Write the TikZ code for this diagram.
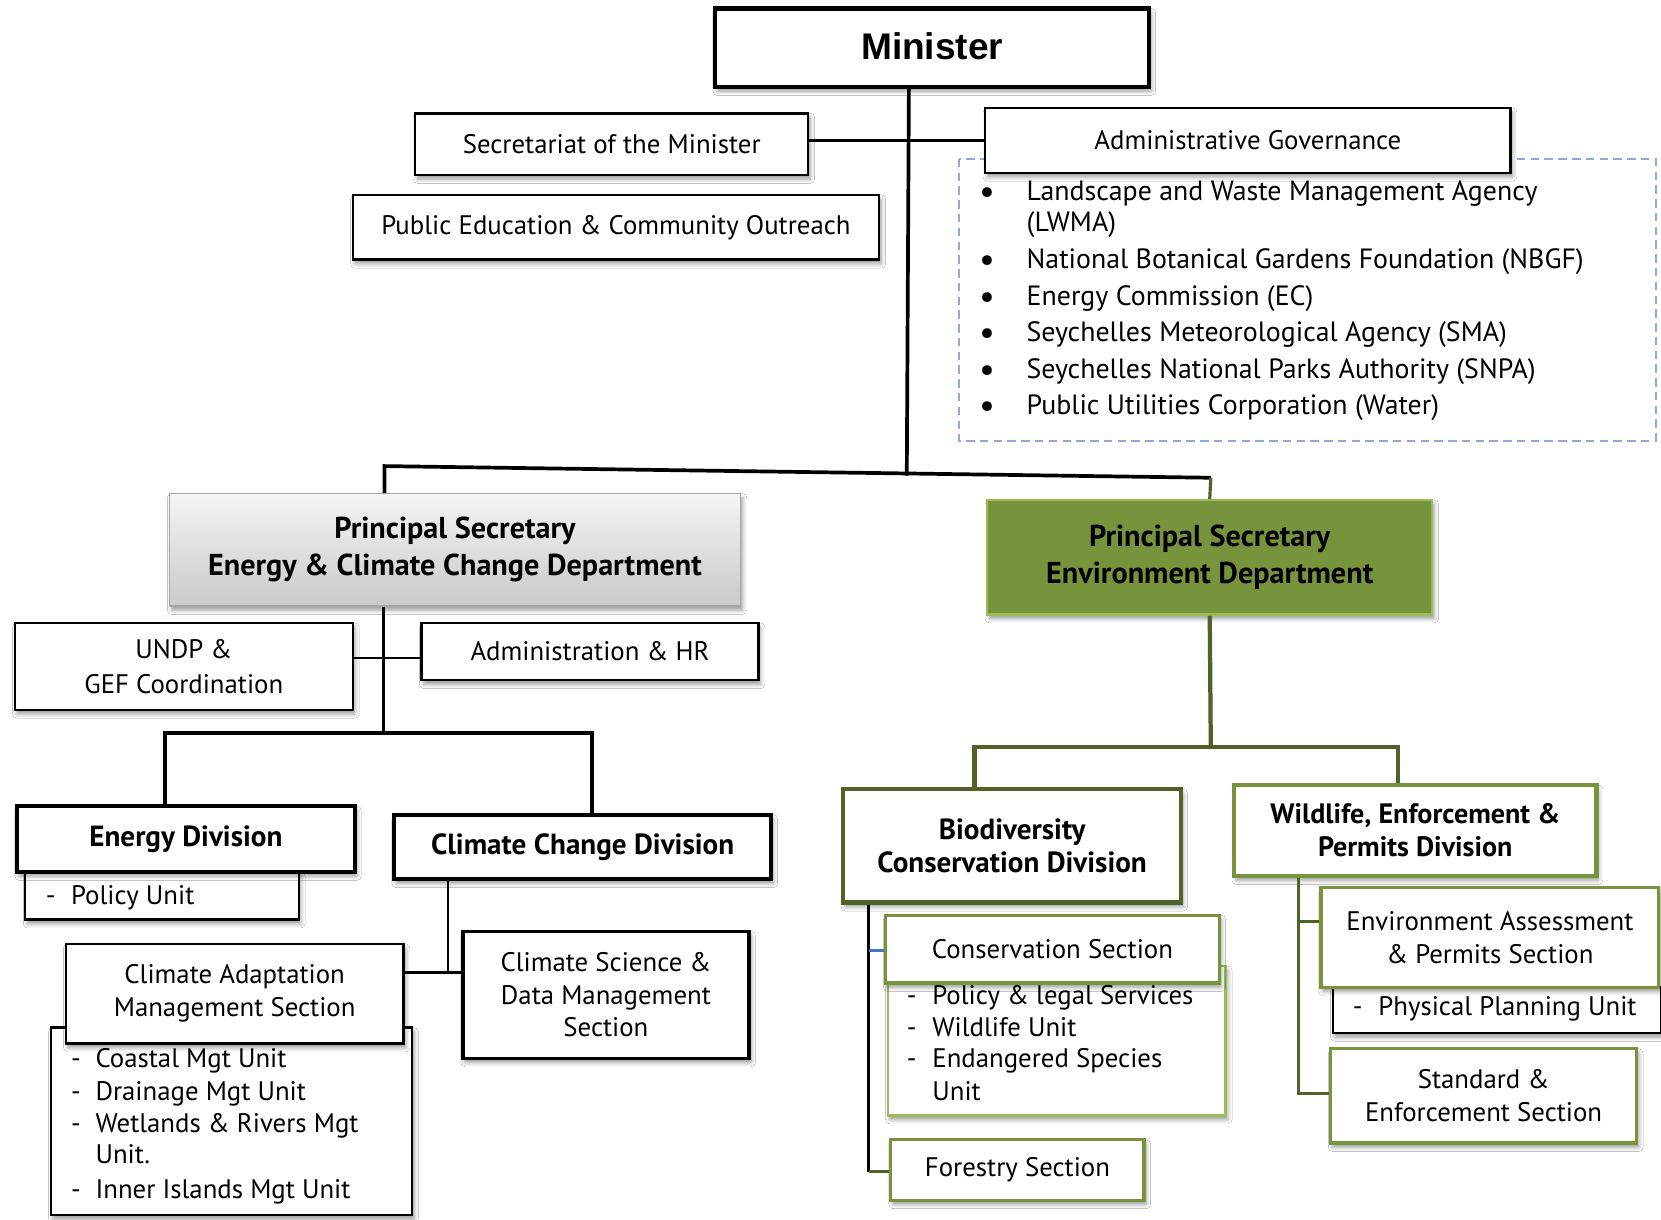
\documentclass[tikz,border=0pt]{standalone}
\usepackage{fontspec}
\setmainfont{PT Sans}
\newfontfamily\minfont{Liberation Sans}
\usetikzlibrary{shadows.blur,calc}
\definecolor{olive}{HTML}{77933C}
\definecolor{lolive}{HTML}{9BBB59}
\definecolor{dolive}{HTML}{4F6228}
\definecolor{dashblue}{HTML}{8EAADB}
\definecolor{lineblue}{HTML}{4472C4}
\newcommand\ntx{\fontsize{25.3}{31}\selectfont}
\newcommand\ltx{\fontsize{26.3}{31}\selectfont}
\newcommand\btx{\fontsize{28.5}{35}\selectfont\bfseries}
\newcommand\bbtx{\fontsize{27.5}{32}\selectfont\bfseries}
\begin{document}
\begin{tikzpicture}[x=1pt,y=-1pt,
  sz/.style 2 args={minimum width=#1pt, minimum height=#2pt},
  box/.style={draw=black, line width=2.2pt, fill=white, inner sep=0pt, align=center, font=\ntx,
    blur shadow={shadow xshift=2pt, shadow yshift=-4pt, shadow blur radius=4pt, shadow opacity=40}},
  heavy/.style={box, line width=4pt, font=\bbtx},
  gbox/.style={box, draw=olive, line width=3pt},
  lt/.style={anchor=base west, inner sep=0pt, font=\ntx},
  agency/.style={anchor=base west, inner sep=0pt, font=\ltx},
  bul/.style={anchor=base west, inner sep=0pt, font=\fontsize{30}{31}\selectfont\bfseries\itshape},
  wire/.style={line width=3.5pt, black},
  thinwire/.style={line width=1.6pt, black},
  gwire/.style={line width=4pt, dolive}
]
\useasboundingbox[fill=white] (0,0) rectangle (1568,1151);

% ---------- top level ----------
\node[box, line width=4pt, sz={410}{74}, font=\minfont\fontsize{35}{40}\selectfont\bfseries] (min) at (880,45) {\raisebox{3pt}{Minister}};
\node[box, sz={371}{58}] (sec) at (577.5,136) {Secretariat of the Minister};
\node[box, sz={497}{61}] (pub) at (581.5,214.5) {Public Education \& Community Outreach};

% agencies under administrative governance
\draw[dashblue, line width=1.6pt, dash pattern=on 8pt off 5pt] (905,150) rectangle (1563,416);
\node[box, sz={496}{61}] (adm) at (1178,132.5) {Administrative Governance};
\node[bul] (b1) at (924,191) {•};
\node[agency] (a1) at (969,189) {Landscape and Waste Management Agency};
\node[agency] (a1b) at (969,219) {(LWMA)};
\node[bul] (b2) at (924,255) {•};
\node[agency] (a2) at (969,253) {National Botanical Gardens Foundation (NBGF)};
\node[bul] (b3) at (924,290) {•};
\node[agency] (a3) at (969,288) {Energy Commission (EC)};
\node[bul] (b4) at (924,324) {•};
\node[agency] (a4) at (969,322) {Seychelles Meteorological Agency (SMA)};
\node[bul] (b5) at (924,359) {•};
\node[agency] (a5) at (969,357) {Seychelles National Parks Authority (SNPA)};
\node[bul] (b6) at (924,393) {•};
\node[agency] (a6) at (969,391) {Public Utilities Corporation (Water)};

% ---------- energy & climate change ----------
\node[box, draw=gray!70, line width=1.2pt, top color=gray!8, bottom color=gray!42, sz={539}{106}, font=\btx] (pse) at (429.5,519) {Principal Secretary\\Energy \& Climate Change Department};
\node[box, sz={319}{82}, font=\fontsize{25.3}{33}\selectfont] (undp) at (173.5,629) {UNDP \&\\GEF Coordination};
\node[box, sz={318}{54}] (ahr) at (557,615) {Administration \& HR};

\node[box, line width=2pt, sz={258}{45}] (pol) at (153,845.5) {};
\node[heavy, sz={319}{62}] (endiv) at (175.5,792) {Energy Division};
\node[lt] (pold) at (43,854) {-};
\node[lt] (polt) at (67,854) {Policy Unit};

\node[heavy, sz={356}{61}] (ccdiv) at (550,799.5) {Climate Change Division};

\node[box, line width=2pt, sz={341}{177}] (camu) at (218.5,1058.5) {};
\node[box, sz={319}{94}] (cam) at (221.5,938) {Climate Adaptation\\Management Section};
\node[lt] (cu1d) at (67,1008) {-};
\node[lt] (cu1) at (90,1008) {Coastal Mgt Unit};
\node[lt] (cu2d) at (67,1039) {-};
\node[lt] (cu2) at (90,1039) {Drainage Mgt Unit};
\node[lt] (cu3d) at (67,1069) {-};
\node[lt] (cu3) at (90,1069) {Wetlands \& Rivers Mgt};
\node[lt] (cu3b) at (90,1098) {Unit.};
\node[lt] (cu4d) at (67,1131) {-};
\node[lt] (cu4) at (90,1131) {Inner Islands Mgt Unit};

\node[box, line width=3pt, sz={270}{120}] (csd) at (572,939) {Climate Science \&\\Data Management\\Section};

% ---------- environment ----------
\node[box, draw=lolive, line width=2.2pt, fill=olive, sz={420}{108}, font=\btx] (pen) at (1142,526) {Principal Secretary\\Environment Department};
\node[box, draw=dolive, line width=4pt, sz={319}{107}, font=\bbtx] (bcd) at (955.5,798.5) {Biodiversity\\Conservation Division};
\node[box, draw=olive, line width=4pt, sz={342}{86}, font=\fontsize{26.5}{31}\selectfont\bfseries] (wep) at (1336,784) {Wildlife, Enforcement \&\\Permits Division};

\node[box, draw=lolive, line width=2.2pt, sz={319}{141}] (consu) at (997.5,982.5) {};
\node[gbox, sz={315}{64}] (cons) at (993.5,896) {Conservation Section};
\node[lt] (cs1d) at (856,948) {-};
\node[lt] (cs1) at (880,948) {Policy \& legal Services};
\node[lt] (cs2d) at (856,978) {-};
\node[lt] (cs2) at (880,978) {Wildlife Unit};
\node[lt] (cs3d) at (856,1008) {-};
\node[lt] (cs3) at (880,1008) {Endangered Species};
\node[lt] (cs3b) at (880,1039) {Unit};
\node[gbox, sz={239}{57}] (fore) at (960.5,1104.5) {Forestry Section};

\node[box, line width=2pt, sz={310}{43}] (ppu) at (1413,953.5) {};
\node[gbox, sz={319}{94}] (eap) at (1406.5,885) {Environment Assessment\\\& Permits Section};
\node[lt] (ppd) at (1277,959) {-};
\node[lt] (ppt) at (1301,959) {Physical Planning Unit};
\node[gbox, sz={289}{89}] (std) at (1400.5,1034.5) {Standard \&\\Enforcement Section};

% ---------- connectors ----------
\coordinate (topl) at (363,440);
\coordinate (topr) at (1143,451);
\coordinate (trunk) at (856,449);
\draw[wire] (min.south -| 858,0) -- (trunk);
\draw[wire] (sec.east |- adm.west) -- (adm.west);
\draw[wire] (pse.north -| topl) -- (topl) -- (topr);
\draw[gwire, line width=3pt] (topr) -- (pen.north);

\coordinate (ebar) at (362,692);
\coordinate (ebl) at (156,692);
\coordinate (ebr) at (559,692);
\coordinate (uy) at (0,621);
\draw[wire] (pse.south -| ebar) -- (ebar);
\draw[thinwire, line width=2pt] (undp.east |- uy) -- (ahr.west |- uy);
\draw[wire] (endiv.north -| ebl) -- (ebl) -- (ebr) -- (ccdiv.north -| ebr);
\coordinate (cx) at (423,918);
\draw[thinwire] (ccdiv.south -| cx) -- (cx);
\draw[wire, line width=3pt] (cam.east |- cx) -- (csd.west |- cx);

\coordinate (gbar) at (1143,705);
\coordinate (gbl) at (920,705);
\coordinate (gbr) at (1320,705);
\draw[gwire] (pen.south) -- (gbar);
\draw[gwire] (bcd.north -| gbl) -- (gbl) -- (gbr) -- (wep.north -| gbr);

\coordinate (bx) at (820,1106);
\draw[thinwire, line width=2.2pt] (bcd.south -| bx) -- (bx);
\draw[lineblue, line width=2.5pt] (820,897) -- (cons.west |- 0,897);
\draw[gwire, line width=3pt] (bx) -- (fore.west |- bx);

\coordinate (wx) at (1226,1032);
\draw[gwire, line width=3pt] (wep.south -| wx) -- (wx) -- (std.west |- wx);
\draw[gwire, line width=3pt] (wx |- 0,870) -- (eap.west |- 0,870);
\end{tikzpicture}
\end{document}
